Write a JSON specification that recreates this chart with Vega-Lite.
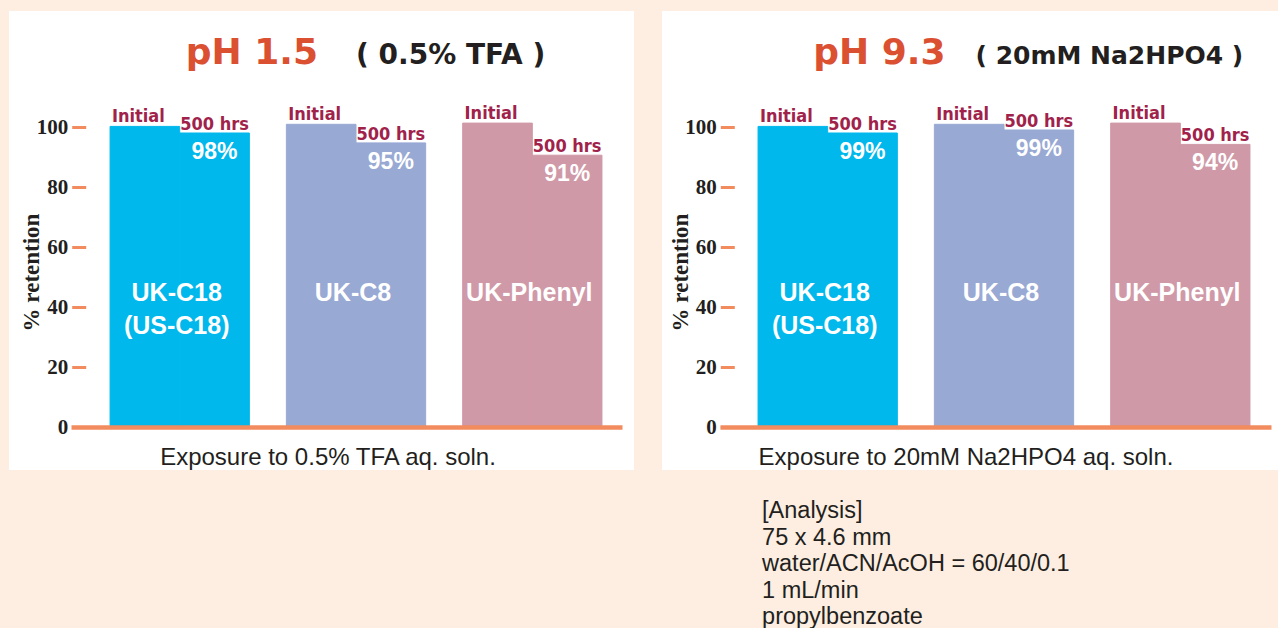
{
  "$schema": "https://vega.github.io/schema/vega-lite/v6.json",
  "background": "#FDEEE1",
  "padding": {"left": 9, "top": 11, "right": 0, "bottom": 0},
  "autosize": {"type": "pad"},
  "bounds": "flush",
  "spacing": 28,
  "config": {"view": {"fill": "white", "stroke": null}},
  "datasets": {
    "acid": [
      {"column": "UK-C18\n(US-C18)", "time": "Initial", "retention": 100.2, "pct": ""},
      {"column": "UK-C18\n(US-C18)", "time": "500 hrs", "retention": 98.0, "pct": "98%"},
      {"column": "UK-C8", "time": "Initial", "retention": 100.9, "pct": ""},
      {"column": "UK-C8", "time": "500 hrs", "retention": 94.7, "pct": "95%"},
      {"column": "UK-Phenyl", "time": "Initial", "retention": 101.3, "pct": ""},
      {"column": "UK-Phenyl", "time": "500 hrs", "retention": 90.6, "pct": "91%"}
    ],
    "base": [
      {"column": "UK-C18\n(US-C18)", "time": "Initial", "retention": 100.2, "pct": ""},
      {"column": "UK-C18\n(US-C18)", "time": "500 hrs", "retention": 98.0, "pct": "99%"},
      {"column": "UK-C8", "time": "Initial", "retention": 100.9, "pct": ""},
      {"column": "UK-C8", "time": "500 hrs", "retention": 99.0, "pct": "99%"},
      {"column": "UK-Phenyl", "time": "Initial", "retention": 101.3, "pct": ""},
      {"column": "UK-Phenyl", "time": "500 hrs", "retention": 94.2, "pct": "94%"}
    ]
  },
  "hconcat": [
    {
      "width": 625,
      "height": 459,
      "data": {"name": "acid"},
      "encoding": {
        "x": {
          "field": "column", "type": "nominal",
          "scale": {"domain": ["UK-C18\n(US-C18)", "UK-C8", "UK-Phenyl"], "range": [62, 613], "paddingInner": 0.21, "paddingOuter": 0.1676, "align": 0.661},
          "axis": {"offset": -43, "labels": false, "ticks": false, "grid": false, "domainColor": "#F28C5E", "domainWidth": 4.3, "domainCap": "butt",
            "title": "Exposure to 0.5% TFA aq. soln.", "titleFont": "Liberation Sans", "titleFontWeight": "normal", "titleFontSize": 24, "titleColor": "#231F20",
            "titleX": 318.5, "titleY": 37, "titleAlign": "center", "titleBaseline": "alphabetic", "zindex": 1}
        },
        "y": {
          "field": "retention", "type": "quantitative",
          "scale": {"domain": [0, 110], "range": [416, 86], "nice": false, "zero": false},
          "axis": {"values": [0, 20, 40, 60, 80, 100], "offset": -76.7, "domain": false, "grid": false,
            "tickColor": "#F28C5E", "tickWidth": 3, "tickSize": 14, "tickCap": "butt",
            "labelFont": "Liberation Serif", "labelFontWeight": "bold", "labelFontSize": 21, "labelColor": "#231F20", "labelPadding": 4,
            "title": "% retention", "titleFont": "Liberation Serif", "titleFontWeight": "bold", "titleFontSize": 23, "titleColor": "#231F20",
            "titleX": -54, "titleY": 261, "titleAngle": -90, "titleAlign": "center", "titleBaseline": "middle", "zindex": 1}
        }
      },
      "layer": [
        {
          "mark": {"type": "bar", "strokeWidth": 1},
          "encoding": {
            "xOffset": {"field": "time", "type": "nominal", "scale": {"domain": ["Initial", "500 hrs"], "paddingInner": 0, "paddingOuter": 0}},
            "color": {"field": "column", "type": "nominal", "scale": {"domain": ["UK-C18\n(US-C18)", "UK-C8", "UK-Phenyl"], "range": ["#00B8EC", "#98A9D4", "#D099A7"]}, "legend": null},
            "stroke": {"field": "column", "type": "nominal", "scale": {"domain": ["UK-C18\n(US-C18)", "UK-C8", "UK-Phenyl"], "range": ["#00B8EC", "#98A9D4", "#D099A7"]}, "legend": null}
          }
        },
        {
          "transform": [{"filter": "datum.time === 'Initial'"}],
          "mark": {"type": "text", "font": "DejaVu Sans Condensed", "fontWeight": "bold", "fontSize": 18, "color": "#A0224A", "align": "center", "baseline": "alphabetic", "dx": -6.5, "dy": -4},
          "encoding": {"xOffset": {"field": "time", "type": "nominal"}, "text": {"field": "time"}}
        },
        {
          "transform": [{"filter": "datum.time === '500 hrs'"}],
          "mark": {"type": "text", "font": "DejaVu Sans Condensed", "fontWeight": "bold", "fontSize": 18, "color": "#A0224A", "align": "center", "baseline": "alphabetic", "dy": -3},
          "encoding": {"xOffset": {"field": "time", "type": "nominal"}, "text": {"field": "time"}}
        },
        {
          "transform": [{"filter": "datum.time === '500 hrs'"}],
          "mark": {"type": "text", "font": "Liberation Sans", "fontWeight": "bold", "fontSize": 23, "color": "white", "align": "center", "baseline": "alphabetic", "dy": 26},
          "encoding": {"xOffset": {"field": "time", "type": "nominal"}, "text": {"field": "pct"}}
        },
        {
          "transform": [{"filter": "datum.time === 'Initial'"}],
          "mark": {"type": "text", "font": "Liberation Sans", "fontWeight": "bold", "fontSize": 25, "color": "white", "align": "center", "baseline": "alphabetic", "lineBreak": "\n", "lineHeight": 33, "dx": -3},
          "encoding": {"y": {"datum": 42}, "text": {"field": "column"}}
        },
        {
          "transform": [{"filter": "datum.time === 'Initial' && datum.column === 'UK-C8'"}],
          "mark": {"type": "text", "font": "DejaVu Sans", "fontWeight": "bold", "fontSize": 36, "color": "#DB5030", "align": "right", "baseline": "alphabetic", "dx": -38},
          "encoding": {"y": {"datum": 121}, "text": {"value": "pH 1.5"}}
        },
        {
          "transform": [{"filter": "datum.time === 'Initial' && datum.column === 'UK-C8'"}],
          "mark": {"type": "text", "font": "DejaVu Sans", "fontWeight": "bold", "fontSize": 28, "color": "#231F20", "align": "left", "baseline": "alphabetic", "dx": 0},
          "encoding": {"y": {"datum": 121}, "text": {"value": "( 0.5% TFA )"}}
        }
      ]
    },
    {
      "width": 616,
      "height": 459,
      "data": {"name": "base"},
      "encoding": {
        "x": {
          "field": "column", "type": "nominal",
          "scale": {"domain": ["UK-C18\n(US-C18)", "UK-C8", "UK-Phenyl"], "range": [58, 609], "paddingInner": 0.21, "paddingOuter": 0.1676, "align": 0.644},
          "axis": {"offset": -43, "labels": false, "ticks": false, "grid": false, "domainColor": "#F28C5E", "domainWidth": 4.3, "domainCap": "butt",
            "title": "Exposure to 20mM Na2HPO4 aq. soln.", "titleFont": "Liberation Sans", "titleFontWeight": "normal", "titleFontSize": 24, "titleColor": "#231F20",
            "titleX": 303.5, "titleY": 37, "titleAlign": "center", "titleBaseline": "alphabetic", "zindex": 1}
        },
        "y": {
          "field": "retention", "type": "quantitative",
          "scale": {"domain": [0, 110], "range": [416, 86], "nice": false, "zero": false},
          "axis": {"values": [0, 20, 40, 60, 80, 100], "offset": -72.3, "domain": false, "grid": false,
            "tickColor": "#F28C5E", "tickWidth": 3, "tickSize": 14, "tickCap": "butt",
            "labelFont": "Liberation Serif", "labelFontWeight": "bold", "labelFontSize": 21, "labelColor": "#231F20", "labelPadding": 4,
            "title": "% retention", "titleFont": "Liberation Serif", "titleFontWeight": "bold", "titleFontSize": 23, "titleColor": "#231F20",
            "titleX": -54, "titleY": 261, "titleAngle": -90, "titleAlign": "center", "titleBaseline": "middle", "zindex": 1}
        }
      },
      "layer": [
        {
          "mark": {"type": "bar", "strokeWidth": 1},
          "encoding": {
            "xOffset": {"field": "time", "type": "nominal", "scale": {"domain": ["Initial", "500 hrs"], "paddingInner": 0, "paddingOuter": 0}},
            "color": {"field": "column", "type": "nominal", "scale": {"domain": ["UK-C18\n(US-C18)", "UK-C8", "UK-Phenyl"], "range": ["#00B8EC", "#98A9D4", "#D099A7"]}, "legend": null},
            "stroke": {"field": "column", "type": "nominal", "scale": {"domain": ["UK-C18\n(US-C18)", "UK-C8", "UK-Phenyl"], "range": ["#00B8EC", "#98A9D4", "#D099A7"]}, "legend": null}
          }
        },
        {
          "transform": [{"filter": "datum.time === 'Initial'"}],
          "mark": {"type": "text", "font": "DejaVu Sans Condensed", "fontWeight": "bold", "fontSize": 18, "color": "#A0224A", "align": "center", "baseline": "alphabetic", "dx": -6.5, "dy": -4},
          "encoding": {"xOffset": {"field": "time", "type": "nominal"}, "text": {"field": "time"}}
        },
        {
          "transform": [{"filter": "datum.time === '500 hrs'"}],
          "mark": {"type": "text", "font": "DejaVu Sans Condensed", "fontWeight": "bold", "fontSize": 18, "color": "#A0224A", "align": "center", "baseline": "alphabetic", "dy": -3},
          "encoding": {"xOffset": {"field": "time", "type": "nominal"}, "text": {"field": "time"}}
        },
        {
          "transform": [{"filter": "datum.time === '500 hrs'"}],
          "mark": {"type": "text", "font": "Liberation Sans", "fontWeight": "bold", "fontSize": 23, "color": "white", "align": "center", "baseline": "alphabetic", "dy": 26},
          "encoding": {"xOffset": {"field": "time", "type": "nominal"}, "text": {"field": "pct"}}
        },
        {
          "transform": [{"filter": "datum.time === 'Initial'"}],
          "mark": {"type": "text", "font": "Liberation Sans", "fontWeight": "bold", "fontSize": 25, "color": "white", "align": "center", "baseline": "alphabetic", "lineBreak": "\n", "lineHeight": 33, "dx": -3},
          "encoding": {"y": {"datum": 42}, "text": {"field": "column"}}
        },
        {
          "transform": [{"filter": "datum.time === 'Initial' && datum.column === 'UK-C8'"}],
          "mark": {"type": "text", "font": "DejaVu Sans", "fontWeight": "bold", "fontSize": 36, "color": "#DB5030", "align": "right", "baseline": "alphabetic", "dx": -58.5},
          "encoding": {"y": {"datum": 121}, "text": {"value": "pH 9.3"}}
        },
        {
          "transform": [{"filter": "datum.time === 'Initial' && datum.column === 'UK-C8'"}],
          "mark": {"type": "text", "font": "DejaVu Sans", "fontWeight": "bold", "fontSize": 25, "color": "#231F20", "align": "left", "baseline": "alphabetic", "dx": -28.5},
          "encoding": {"y": {"datum": 121}, "text": {"value": "( 20mM Na2HPO4 )"}}
        },
        {
          "transform": [{"filter": "datum.time === 'Initial' && datum.column === 'UK-C18\\n(US-C18)'"}],
          "mark": {"type": "text", "font": "Liberation Sans", "fontSize": 23.5, "color": "#231F20", "align": "left", "baseline": "alphabetic", "lineHeight": 26.5, "dx": 4},
          "encoding": {
            "x": {"field": "column", "type": "nominal", "bandPosition": 0},
            "y": {"datum": -30.4},
            "text": {"value": ["[Analysis]", "75 x 4.6 mm", "water/ACN/AcOH = 60/40/0.1", "1 mL/min", "propylbenzoate"]}
          }
        }
      ]
    }
  ]
}
